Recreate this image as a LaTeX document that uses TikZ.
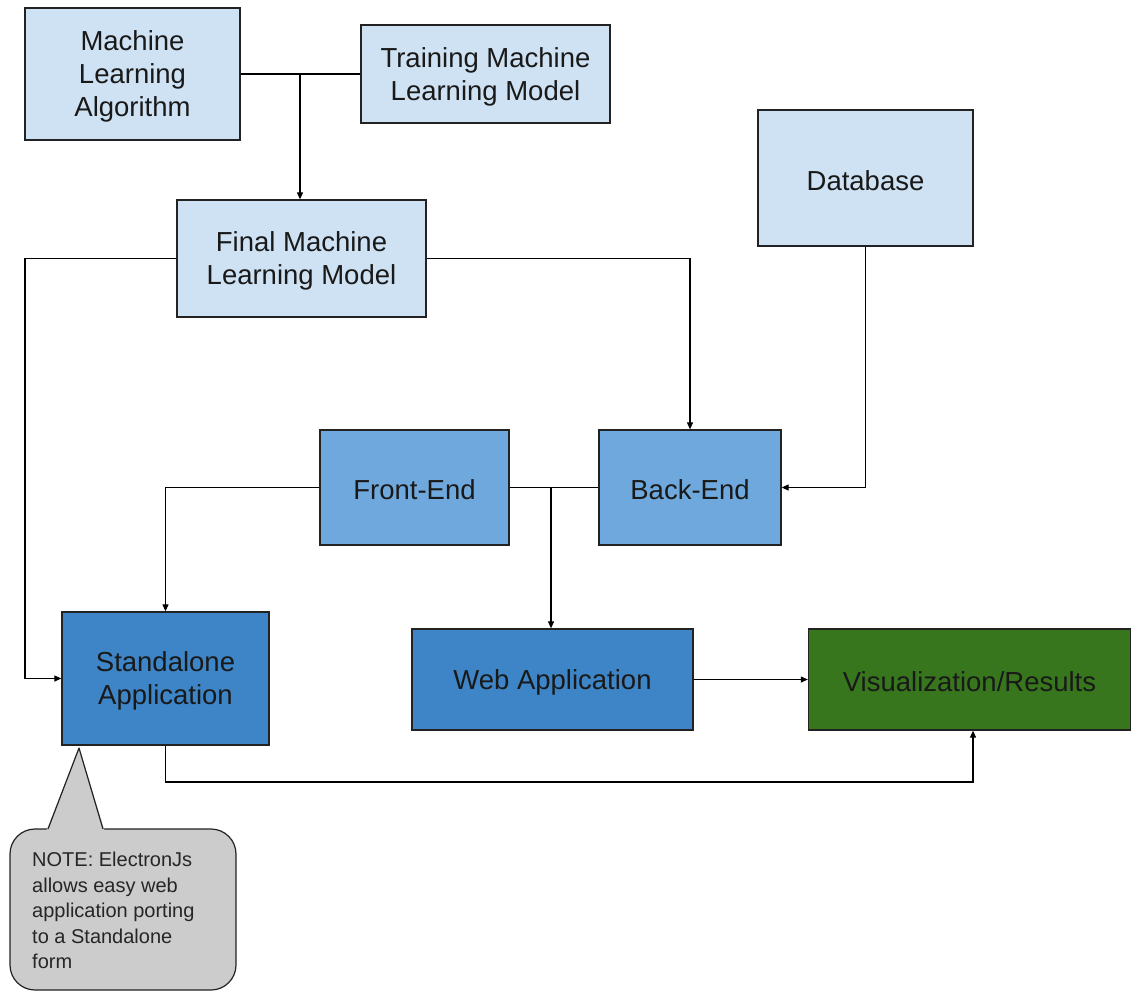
\documentclass[tikz,border=0pt]{standalone}
\usepackage{fontspec}
\setmainfont{Liberation Sans}
\usetikzlibrary{arrows.meta}
\definecolor{lightblue}{HTML}{CFE2F3}
\definecolor{midblue}{HTML}{6FA8DC}
\definecolor{darkblue}{HTML}{3D85C6}
\definecolor{darkgreen}{HTML}{38761D}
\definecolor{notegray}{HTML}{CCCCCC}
\definecolor{edgegray}{HTML}{222222}
\tikzset{
  boxtext/.style={align=center, inner sep=0pt, yshift=-2.5pt,
    font=\fontsize{27.5}{33}\selectfont, text=black!90},
  box/.style={draw=edgegray, line width=1.3pt, inner sep=0pt,
    label={[boxtext]center:#1}},
  lb/.style={box={#1}, fill=lightblue},
  mb/.style={box={#1}, fill=midblue},
  db/.style={box={#1}, fill=darkblue},
  gb/.style={box={#1}, fill=darkgreen},
  conn/.style={draw=black, line width=1.1pt},
  arr/.style={conn, -{Triangle[length=7pt,width=6pt]}},
  notebody/.style={draw=edgegray, line width=1.2pt, fill=notegray, rounded corners=25pt,
    minimum width=226pt, minimum height=161pt, inner sep=0pt},
  notetext/.style={align=left, inner sep=0pt, anchor=north west,
    font=\fontsize{20}{25.5}\selectfont, text=black!85}
}
\begin{document}
\begin{tikzpicture}[x=1pt, y=-1pt]
\useasboundingbox (0,0) rectangle (1132,991);

% boxes
\node[lb={Machine\\Learning\\Algorithm}, minimum width=215pt, minimum height=132pt] (mla) at (132.5,74) {};
\node[lb={Training Machine\\Learning Model}, minimum width=249pt, minimum height=98pt] (train) at (485.5,74) {};
\node[lb={Final Machine\\Learning Model}, minimum width=249pt, minimum height=117pt] (final) at (301.5,258.5) {};
\node[lb={Database}, minimum width=215pt, minimum height=136pt] (dbase) at (865.5,178) {};
\node[mb={Front-End}, minimum width=189pt, minimum height=115pt] (fe) at (414.5,487.5) {};
\node[mb={Back-End}, minimum width=182pt, minimum height=115pt] (be) at (690,487.5) {};
\node[db={Standalone\\Application}, minimum width=207pt, minimum height=133pt] (sa) at (165.5,678.5) {};
\node[db={Web Application}, minimum width=281pt, minimum height=101pt] (web) at (552.5,679.5) {};
\node[gb={Visualization/Results}, minimum width=322pt, minimum height=101pt] (vis) at (969.5,679.5) {};

% note callout
\node[notebody] (note) at (123,909.5) {};
\fill[notegray] (46.5,830.5) -- (79,748) -- (104.5,830.5) -- cycle;
\draw[draw=edgegray, line width=1.2pt, line join=round] (48,829) -- (79,748) -- (103,829);
\node[notetext] (notetxt) at (32,852) {NOTE: ElectronJs\\allows easy web\\application porting\\to a Standalone\\form};

% connectors
\coordinate (j1) at (300,74);
\coordinate (c1) at (25,400);
\coordinate (j2) at (551,487.5);
\coordinate (c2) at (973,782);

\draw[conn] (mla.east) -- (train.west);
\draw[arr] (j1) -- (j1 |- final.north);
\draw[arr] (final.west) -| (c1) |- (sa.west);
\draw[arr] (final.east) -| (be.north);
\draw[arr] (dbase.south) |- (be.east);
\draw[arr] (fe.west) -| (sa.north);
\draw[conn] (fe.east) -- (be.west);
\draw[arr] (j2) -- (j2 |- web.north);
\draw[arr] (web.east) -- (vis.west);
\draw[arr] (sa.south) |- (c2) -- (c2 |- vis.south);
\end{tikzpicture}
\end{document}
